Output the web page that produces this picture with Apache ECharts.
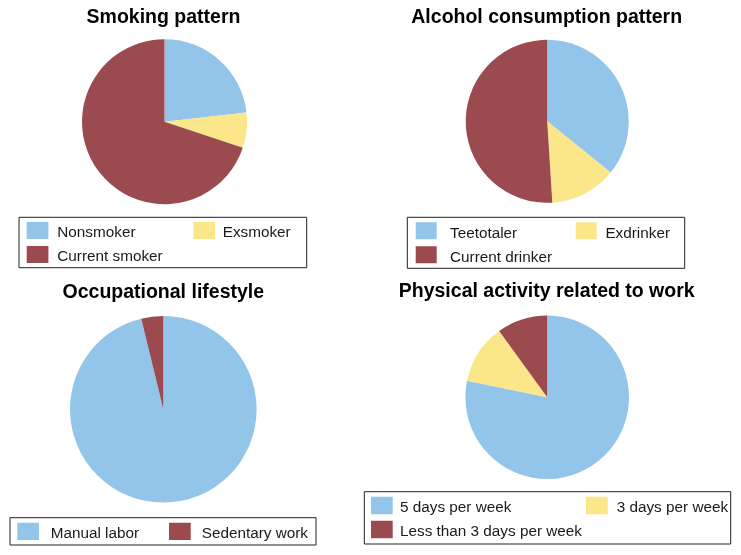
<!DOCTYPE html>
<html><head><meta charset="utf-8">
<script src="https://cdn.jsdelivr.net/npm/echarts@6/dist/echarts.min.js"></script>
<style>html,body{margin:0;padding:0;background:#fff}#c{width:741px;height:555px}</style>
</head><body><div id="c"></div>
<script>
// ---- data ----
const titles = ['Smoking pattern', 'Alcohol consumption pattern', 'Occupational lifestyle', 'Physical activity related to work'];
const smokingNames = ['Nonsmoker', 'Exsmoker', 'Current smoker'];
const smokingValues = [23.2, 6.9, 69.9];
const alcoholNames = ['Teetotaler', 'Exdrinker', 'Current drinker'];
const alcoholValues = [35.8, 13.2, 51.0];
const occupationNames = ['Manual labor', 'Sedentary work'];
const occupationValues = [96.2, 3.8];
const activityNames = ['5 days per week', '3 days per week', 'Less than 3 days per week'];
const activityValues = [78.2, 11.8, 10.0];

// ---- style ----
const BLUE = '#92C5E9', YELLOW = '#FCE68A', RED = '#9B4A50';
const FONT = '"Liberation Sans", Arial, Helvetica, sans-serif';
const TXT = '#1a1a1a';

// lg: left/top = box edge, pad = [top,right,left], iw/ih = swatch size, e = extra (transparent) icon height
// dx = column-2 offset, p1/p2 = text gaps, w2 = column-2 text box width
const panels = [
  { names: smokingNames, values: smokingValues, colors: [BLUE, YELLOW, RED],
    title: [163.5, 18.1], center: [164.5, 121.7], r: 82.5,
    lg: { left: 19, top: 217.3, pt: 4.7, pr: 8, pl: 7.7, pb: 0, iw: 21.7, ih: 17, e: 4.7, dx: 166.6, p1: 3.9, p2: 2.7, w2: 76 } },
  { names: alcoholNames, values: alcoholValues, colors: [BLUE, YELLOW, RED],
    title: [546.7, 18.0], center: [547.2, 121.3], r: 81.5,
    lg: { left: 407.3, top: 217.3, pt: 5, pr: 8.4, pl: 8.4, pb: 0, iw: 21, ih: 17, e: 5, dx: 160, p1: 8.3, p2: 3.7, w2: 70.9 } },
  { names: occupationNames, values: occupationValues, colors: [BLUE, RED],
    title: [163.3, 293.0], center: [163.3, 409.3], r: 93.3,
    lg: { left: 10, top: 517.7, pt: 5, pr: 7.3, pl: 7.3, pb: 0, iw: 21.7, ih: 17.3, e: 5, dx: 151.7, p1: 6.7, p2: 6, w2: 107 } },
  { names: activityNames, values: activityValues, colors: [BLUE, YELLOW, RED],
    title: [546.7, 291.6], center: [547.2, 397.2], r: 81.8,
    lg: { left: 364.3, top: 491.7, pt: 5, pr: 2, pl: 6.7, pb: 0.3, iw: 21.7, ih: 17.6, e: 5.4, dx: 215, p1: 2.3, p2: 4, w2: 112 } }
];

const option = { animation: false, title: [], legend: [], series: [] };

panels.forEach((p, k) => {
  option.title.push({
    text: titles[k], left: p.title[0], top: p.title[1], padding: 0,
    textAlign: 'center', textVerticalAlign: 'middle',
    textStyle: { fontFamily: FONT, fontSize: 19.5, fontWeight: 'bold', color: '#000' }
  });
  const L = p.lg;
  const H = L.ih + L.e;          // icon box height (swatch + transparent strip below)
  const gap = 24 - H;            // row pitch 24px
  const w1 = L.dx - gap - L.iw - 5 - L.p1;
  const icon = 'path://M0,0L' + L.iw + ',0L' + L.iw + ',' + L.ih + 'L0,' + L.ih + 'ZM0,' + H + 'L' + L.iw + ',' + H;
  option.legend.push({
    type: 'plain', orient: 'horizontal', left: L.left, top: L.top,
    width: L.dx + L.iw + 5 + L.p2 + L.w2 + 2,
    padding: [L.pt, L.pr, L.pb, L.pl], itemGap: gap, itemWidth: L.iw, itemHeight: H,
    icon: icon, selectedMode: false,
    borderColor: '#222', borderWidth: 1, backgroundColor: '#fff',
    itemStyle: { borderWidth: 0 },
    data: p.names,
    formatter: (name) => (p.names.indexOf(name) % 2 === 0 ? '{a|' : '{b|') + name + '}',
    textStyle: {
      fontFamily: FONT, fontSize: 15.3, color: TXT,
      rich: {
        a: { fontFamily: FONT, fontSize: 15.3, color: TXT, width: w1, lineHeight: 17, padding: [0, 0, 0, L.p1] },
        b: { fontFamily: FONT, fontSize: 15.3, color: TXT, width: L.w2, lineHeight: 17, padding: [0, 0, 0, L.p2] }
      }
    }
  });
  option.series.push({
    type: 'pie', center: p.center, radius: p.r, startAngle: 90, clockwise: true,
    silent: true, label: { show: false }, labelLine: { show: false },
    emphasis: { disabled: true },
    itemStyle: { borderWidth: 0 },
    data: p.names.map((n, i) => ({ name: n, value: p.values[i], itemStyle: { color: p.colors[i] } }))
  });
});

const chart = echarts.init(document.getElementById('c'), null, { renderer: 'canvas' });
chart.setOption(option);
</script>
</body></html>
